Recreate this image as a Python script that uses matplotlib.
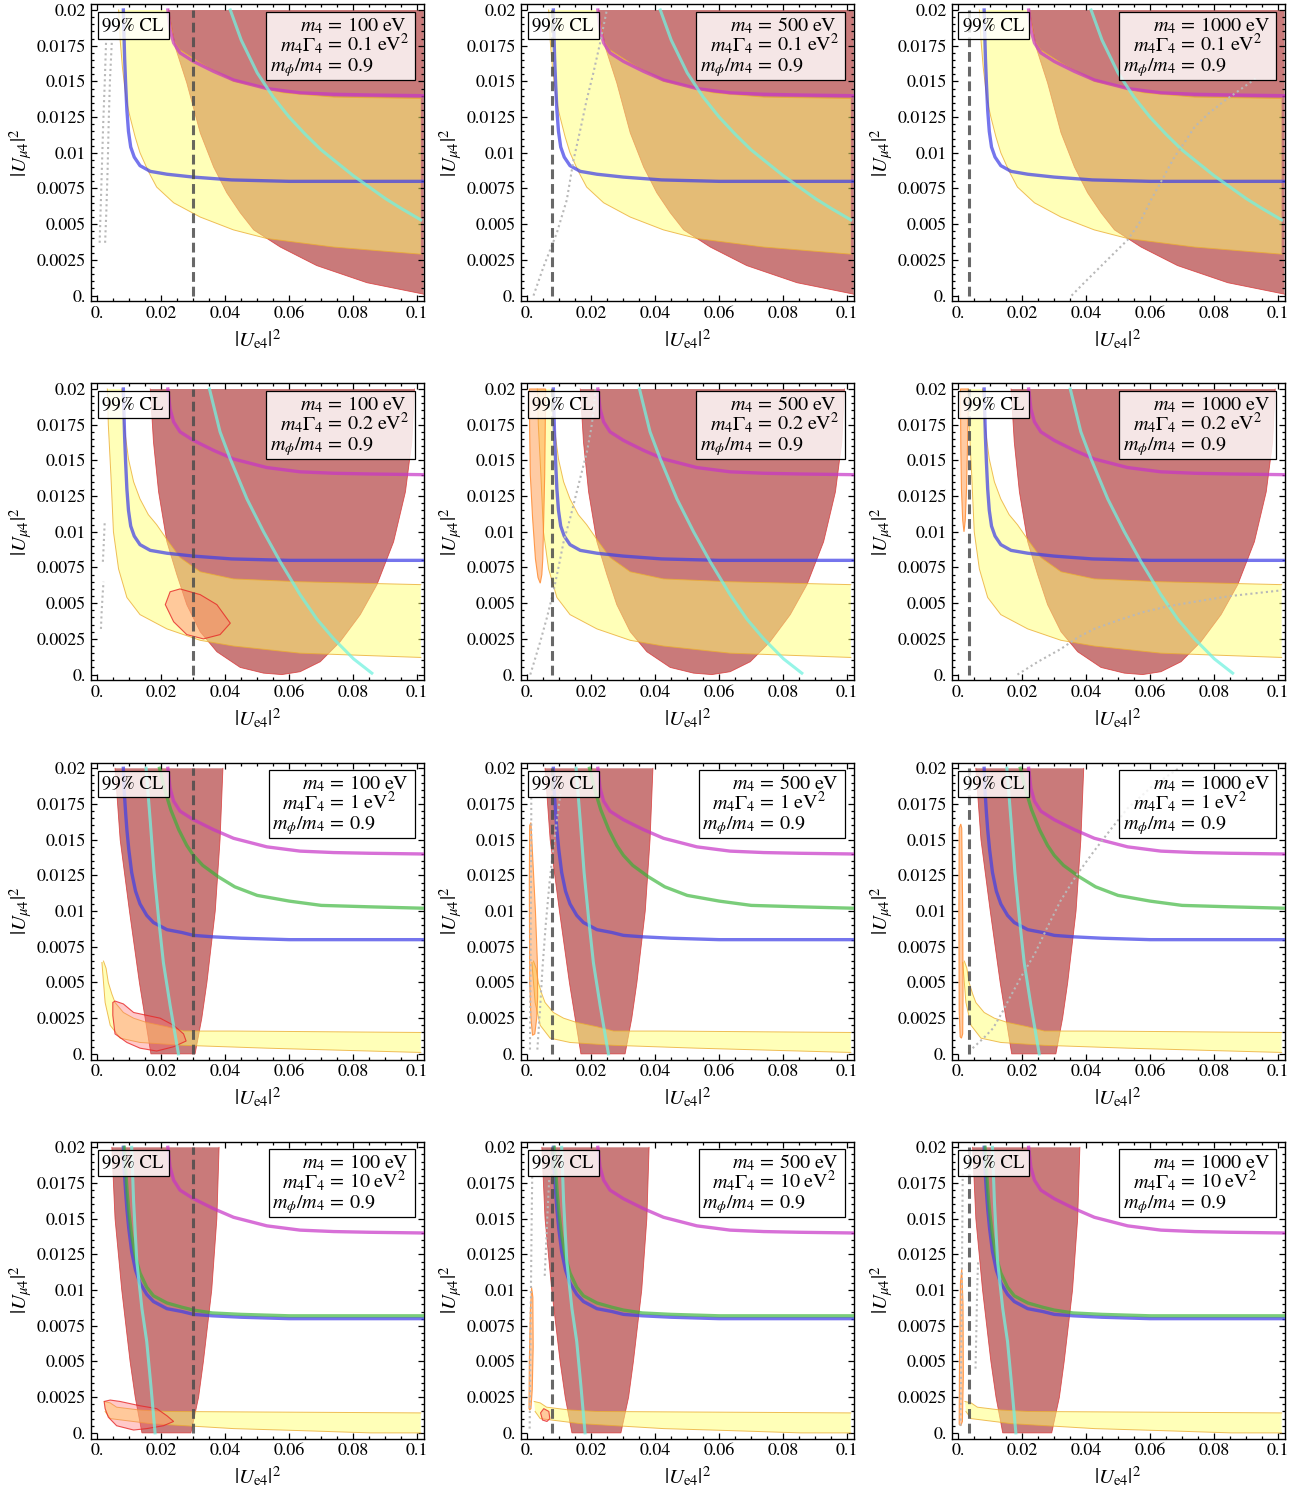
import matplotlib.pyplot as plt
from matplotlib.patches import Rectangle
from matplotlib.ticker import MultipleLocator

plt.rcParams['font.family'] = 'STIXGeneral'
plt.rcParams['mathtext.fontset'] = 'stix'

# panel parameters: columns = m4, rows = m4*Gamma4
m4_values = ["100", "500", "1000"]
width_values = ["0.1", "0.2", "1", "10"]
mphi_ratio = "0.9"

xticks = [0, 0.02, 0.04, 0.06, 0.08, 0.1]
xtick_labels = ["0.", "0.02", "0.04", "0.06", "0.08", "0.1"]
yticks = [0, 0.0025, 0.005, 0.0075, 0.01, 0.0125, 0.015, 0.0175, 0.02]
ytick_labels = ["0.", "0.0025", "0.005", "0.0075", "0.01", "0.0125", "0.015", "0.0175", "0.02"]

# vertical dashed bound, one per column
dash_x = [0.03, 0.0077, 0.0036]

# magenta curve, same in all panels
mag_x = [0.0221, 0.0228, 0.0239, 0.0259, 0.0301, 0.0364, 0.0426, 0.053, 0.0634, 0.0739, 0.085, 0.102]
mag_y = [0.02, 0.0186, 0.0177, 0.017, 0.0164, 0.0157, 0.0151, 0.0145, 0.0142, 0.0141, 0.01405, 0.014]

# blue curve: rows 1-2 and rows 3-4
blue_x = [
    [0.0082, 0.0084, 0.0086, 0.0089, 0.0093, 0.0098, 0.0105, 0.0116, 0.0134, 0.0166, 0.0218,
     0.03, 0.042, 0.06, 0.102],
    [0.0082, 0.0085, 0.0089, 0.0093, 0.0099, 0.0108, 0.012, 0.0134, 0.0155, 0.0176, 0.0218,
     0.0265, 0.0301, 0.036, 0.045, 0.06, 0.102],
]
blue_y = [
    [0.02, 0.0182, 0.0166, 0.0149, 0.013, 0.0115, 0.0104, 0.0097, 0.0091, 0.0087, 0.0085,
     0.0083, 0.0081, 0.008, 0.008],
    [0.02, 0.0183, 0.0169, 0.0157, 0.0143, 0.0127, 0.0114, 0.0105, 0.0097, 0.0092, 0.0087,
     0.0085, 0.0083, 0.0082, 0.0081, 0.008, 0.008],
]
blue_row = [0, 0, 1, 1]

# cyan curve, one per row
cyan_x = [
    [0.0416, 0.045, 0.05, 0.055, 0.06, 0.065, 0.07, 0.075, 0.08, 0.085, 0.09, 0.095, 0.1011],
    [0.0351, 0.0384, 0.0416, 0.0468, 0.052, 0.0572, 0.0634, 0.0686, 0.0739, 0.0801, 0.0858],
    [0.0153, 0.0166, 0.0178, 0.0192, 0.0207, 0.0228, 0.0254],
    [0.0108, 0.0114, 0.0124, 0.014, 0.0155, 0.0168, 0.0181],
]
cyan_y = [
    [0.02, 0.0179, 0.0156, 0.0139, 0.0125, 0.0113, 0.0102, 0.0093, 0.0084, 0.0076, 0.0068, 0.0061, 0.0053],
    [0.02, 0.017, 0.0151, 0.0123, 0.01, 0.0079, 0.0056, 0.0039, 0.0025, 0.0011, 0.0001],
    [0.02, 0.0163, 0.0127, 0.0095, 0.0064, 0.0034, 0.0],
    [0.02, 0.0162, 0.012, 0.0087, 0.0064, 0.0033, 0.0],
]

# green curve, rows 3 and 4 only
green_x = [
    None,
    None,
    [0.0195, 0.021, 0.023, 0.0255, 0.028, 0.0301, 0.033, 0.0379, 0.043, 0.05, 0.06, 0.07, 0.085, 0.102],
    [0.0085, 0.0089, 0.0094, 0.01, 0.0108, 0.012, 0.0134, 0.0155, 0.0176, 0.0218, 0.0265,
     0.0301, 0.036, 0.045, 0.06, 0.102],
]
green_y = [
    None,
    None,
    [0.02, 0.0186, 0.0171, 0.0157, 0.0146, 0.0139, 0.0132, 0.0124, 0.0117, 0.0111, 0.0107,
     0.0104, 0.0103, 0.0102],
    [0.02, 0.0185, 0.0168, 0.0153, 0.0138, 0.0123, 0.0112, 0.0102, 0.0096, 0.0091, 0.0088,
     0.0086, 0.0084, 0.0083, 0.0082, 0.0082],
]

# red region boundary, one per row
red_x = [
    [0.0223, 0.0244, 0.028, 0.0322, 0.0364, 0.0405, 0.0447, 0.0489, 0.0572, 0.0686, 0.0843, 0.102],
    [0.0166, 0.0176, 0.0192, 0.0218, 0.0249, 0.028, 0.0322, 0.0374, 0.0447, 0.052, 0.0577,
     0.0634, 0.0697, 0.0759, 0.0822, 0.0874, 0.0926, 0.0963, 0.0983, 0.0991],
    [0.0056, 0.0072, 0.0101, 0.0132, 0.015, 0.0168, 0.0306, 0.0327, 0.0343, 0.0369, 0.0384, 0.0393],
    [0.0046, 0.0056, 0.0077, 0.0103, 0.0119, 0.014, 0.0293, 0.0317, 0.0332, 0.0358, 0.0374, 0.0381],
]
red_y = [
    [0.02, 0.0174, 0.0149, 0.0114, 0.009, 0.0072, 0.0058, 0.0046, 0.0034, 0.0021, 0.0009, 0.0001],
    [0.02, 0.0163, 0.0128, 0.0093, 0.007, 0.0049, 0.003, 0.0016, 0.0005, 0.0001, 0.0,
     0.0002, 0.0009, 0.0023, 0.0042, 0.0063, 0.0093, 0.0128, 0.0163, 0.02],
    [0.02, 0.015, 0.01, 0.005, 0.0025, 0.0, 0.0, 0.0025, 0.005, 0.01, 0.015, 0.02],
    [0.02, 0.015, 0.01, 0.005, 0.0025, 0.0, 0.0, 0.0025, 0.005, 0.01, 0.015, 0.02],
]

# yellow band, upper and lower edges, one per row
yup_x = [
    [0.0223, 0.0239, 0.0259, 0.0322, 0.0426, 0.0582, 0.0739, 0.1011],
    [0.0077, 0.0084, 0.0098, 0.0114, 0.0134, 0.016, 0.0186, 0.0223, 0.0259, 0.0322, 0.0426, 0.0634, 0.1011],
    [0.002, 0.0028, 0.0035, 0.0046, 0.0056, 0.0082, 0.0114, 0.0155, 0.0218, 0.027, 0.0426, 0.1011],
    [0.0022, 0.0041, 0.0061, 0.0134, 0.0218, 0.1011],
]
yup_y = [
    [0.02, 0.0179, 0.0172, 0.0163, 0.015, 0.0142, 0.0139, 0.0138],
    [0.02, 0.0175, 0.0151, 0.0135, 0.0123, 0.0112, 0.0105, 0.0093, 0.0082, 0.0072, 0.0067, 0.0065, 0.0063],
    [0.0065, 0.006, 0.005, 0.0042, 0.0036, 0.0029, 0.0025, 0.0022, 0.0019, 0.0016, 0.0016, 0.0015],
    [0.0022, 0.0021, 0.0018, 0.0016, 0.0015, 0.0014],
]
ylow_x = [
    [0.0067, 0.0072, 0.0079, 0.0091, 0.0103, 0.0119, 0.0134, 0.016, 0.0186, 0.0239, 0.0322,
     0.0426, 0.053, 0.0634, 0.0739, 0.1011],
    [0.0032, 0.0035, 0.0043, 0.0051, 0.0067, 0.0093, 0.0134, 0.0218, 0.0322, 0.0426, 0.0634, 0.1011],
    [0.0015, 0.0025, 0.0041, 0.0072, 0.0134, 0.027, 0.053, 0.1011],
    [0.0025, 0.0041, 0.0166, 0.0426, 0.0634, 0.0853, 0.1011],
]
ylow_y = [
    [0.02, 0.0179, 0.016, 0.0137, 0.0125, 0.0111, 0.01, 0.0087, 0.0076, 0.0065, 0.0055,
     0.0046, 0.004, 0.0037, 0.0034, 0.0029],
    [0.02, 0.0175, 0.014, 0.01, 0.0074, 0.0054, 0.0042, 0.0032, 0.0024, 0.002, 0.0015, 0.0012],
    [0.0064, 0.0036, 0.002, 0.0011, 0.0008, 0.0006, 0.0004, 0.0001],
    [0.0015, 0.001, 0.00065, 0.0003, 0.00016, 0.0, 0.0],
]

# light red contours (red edge)
pink_r2c1_x = [0.0213, 0.0228, 0.0259, 0.0322, 0.0374, 0.0416, 0.0384, 0.0332, 0.028, 0.0239]
pink_r2c1_y = [0.0049, 0.0058, 0.006, 0.0056, 0.0049, 0.0036, 0.0028, 0.0025, 0.0028, 0.0037]
pink_r3c1_x = [0.0049, 0.0056, 0.0082, 0.0114, 0.0155, 0.0197, 0.0239, 0.027, 0.0278,
               0.0239, 0.0186, 0.0134, 0.0093, 0.0056, 0.0049]
pink_r3c1_y = [0.0036, 0.0037, 0.0035, 0.0029, 0.0027, 0.0025, 0.002, 0.0014, 0.0009,
               0.0005, 0.0002, 0.0004, 0.0008, 0.0014, 0.0027]
pink_r4c1_x = [0.0022, 0.0041, 0.0072, 0.0134, 0.0186, 0.0218, 0.0239, 0.0207, 0.0155,
               0.0114, 0.0061, 0.0035, 0.0025]
pink_r4c1_y = [0.0022, 0.0023, 0.0022, 0.0019, 0.0017, 0.0012, 0.0008, 0.0005, 0.0003,
               0.0002, 0.0005, 0.0011, 0.0017]
pink_r4c2_x = [0.0042, 0.0052, 0.0068, 0.0071, 0.0062, 0.0048]
pink_r4c2_y = [0.0014, 0.0017, 0.0015, 0.001, 0.0008, 0.0009]

# orange contours
orng_r2c2_x = [0.0007, 0.0008, 0.001, 0.0017, 0.0026, 0.0034, 0.0041, 0.0046, 0.0049, 0.0052, 0.0055, 0.0058]
orng_r2c2_y = [0.02, 0.017, 0.014, 0.011, 0.0081, 0.0068, 0.0064, 0.007, 0.0081, 0.011, 0.014, 0.02]
orng_r2c3_x = [0.0008, 0.0009, 0.0011, 0.0015, 0.0019, 0.0023, 0.0027, 0.003, 0.0033]
orng_r2c3_y = [0.02, 0.016, 0.013, 0.0108, 0.01, 0.0108, 0.013, 0.016, 0.02]
orng_r3c2_x = [0.0008, 0.0007, 0.0008, 0.0012, 0.0017, 0.0024, 0.003, 0.0033, 0.0032, 0.0026, 0.0017, 0.0012]
orng_r3c2_y = [0.016, 0.012, 0.005, 0.0025, 0.0013, 0.0014, 0.0025, 0.004, 0.0065, 0.01, 0.014, 0.0162]
orng_r3c3_x = [0.0004, 0.0003, 0.0004, 0.0007, 0.0011, 0.0015, 0.0016, 0.0015, 0.0012, 0.0009]
orng_r3c3_y = [0.0158, 0.01, 0.003, 0.0012, 0.0011, 0.0014, 0.004, 0.01, 0.0158, 0.0161]
orng_r4c2_x = [0.0006, 0.0007, 0.001, 0.0014, 0.0018, 0.0019, 0.0016, 0.0012, 0.0008]
orng_r4c2_y = [0.0017, 0.005, 0.0085, 0.0102, 0.0095, 0.006, 0.003, 0.0017, 0.0016]
orng_r4c3_x = [0.0004, 0.0005, 0.0008, 0.0012, 0.0016, 0.0017, 0.0014, 0.0009]
orng_r4c3_y = [0.0006, 0.005, 0.0105, 0.0115, 0.009, 0.004, 0.0008, 0.0005]

# light grey dotted contours
dot_r1c1a_x = [0.0008, 0.0011, 0.0015, 0.0019, 0.0024, 0.0028]
dot_r1c1a_y = [0.0037, 0.006, 0.009, 0.012, 0.015, 0.0178]
dot_r1c1b_x = [0.0025, 0.0029, 0.0033, 0.0036, 0.004, 0.0046]
dot_r1c1b_y = [0.0037, 0.006, 0.009, 0.012, 0.015, 0.0178]
dot_r1c2_x = [0.002, 0.0051, 0.0093, 0.0124, 0.0145, 0.0166, 0.0186, 0.0207, 0.0228, 0.0249]
dot_r1c2_y = [0.0, 0.002, 0.0044, 0.0067, 0.0095, 0.0116, 0.0137, 0.0156, 0.0177, 0.02]
dot_r1c3_x = [0.0355, 0.039, 0.0426, 0.048, 0.053, 0.057, 0.0603, 0.064, 0.0676, 0.071,
              0.0739, 0.078, 0.083, 0.088, 0.093]
dot_r1c3_y = [0.0, 0.0008, 0.0016, 0.0028, 0.0039, 0.0052, 0.0067, 0.0082, 0.0097, 0.0108,
              0.0118, 0.0127, 0.0136, 0.0144, 0.0152]
dot_r2c1a_x = [0.0018, 0.002, 0.0022, 0.0024]
dot_r2c1a_y = [0.0079, 0.0088, 0.0098, 0.0108]
dot_r2c1b_x = [0.0012, 0.0014, 0.0017, 0.002]
dot_r2c1b_y = [0.0032, 0.0043, 0.0055, 0.0065]
dot_r2c2_x = [0.001, 0.0041, 0.0062, 0.0082, 0.0098, 0.0114, 0.0135, 0.0155, 0.0172, 0.0187, 0.02, 0.0208, 0.0213]
dot_r2c2_y = [0.0, 0.0023, 0.004, 0.0058, 0.0075, 0.0093, 0.011, 0.0128, 0.0143, 0.0156, 0.0172, 0.0185, 0.02]
dot_r2c3_x = [0.0186, 0.025, 0.0322, 0.0374, 0.0426, 0.05, 0.0582, 0.066, 0.0739, 0.085, 0.1011]
dot_r2c3_y = [0.0, 0.0009, 0.0018, 0.0026, 0.0032, 0.0038, 0.0044, 0.0048, 0.0051, 0.0055, 0.0059]
dot_r3c2a_x = [0.0009, 0.001, 0.0011, 0.0012, 0.0013, 0.0013]
dot_r3c2a_y = [0.0003, 0.004, 0.008, 0.012, 0.016, 0.0182]
dot_r3c2b_x = [0.0032, 0.004, 0.0048, 0.0058, 0.007, 0.0085, 0.0104]
dot_r3c2b_y = [0.0003, 0.003, 0.006, 0.009, 0.012, 0.015, 0.0182]
dot_r3c3_x = [0.0046, 0.008, 0.011, 0.0138, 0.0166, 0.02, 0.024, 0.028, 0.032, 0.037,
              0.0425, 0.048, 0.053, 0.061, 0.069]
dot_r3c3_y = [0.0004, 0.0011, 0.0018, 0.0029, 0.0041, 0.0055, 0.007, 0.0089, 0.0107, 0.0125,
              0.0142, 0.0158, 0.0172, 0.0188, 0.02]
dot_r4c2a_x = [0.0008, 0.001, 0.0012, 0.0014, 0.0016]
dot_r4c2a_y = [0.0003, 0.005, 0.01, 0.0145, 0.018]
dot_r4c2b_x = [0.0055, 0.006, 0.0065, 0.007]
dot_r4c2b_y = [0.011, 0.0135, 0.016, 0.0182]
dot_r4c3a_x = [0.0008, 0.001, 0.0012, 0.0014, 0.0015]
dot_r4c3a_y = [0.0005, 0.005, 0.01, 0.015, 0.0182]
dot_r4c3b_x = [0.0055, 0.0058, 0.006, 0.0063]
dot_r4c3b_y = [0.0045, 0.0075, 0.01, 0.012]

pink_blobs = {
    (1, 0): [(pink_r2c1_x, pink_r2c1_y)],
    (2, 0): [(pink_r3c1_x, pink_r3c1_y)],
    (3, 0): [(pink_r4c1_x, pink_r4c1_y)],
    (3, 1): [(pink_r4c2_x, pink_r4c2_y)],
}
orange_blobs = {
    (1, 1): [(orng_r2c2_x, orng_r2c2_y)],
    (1, 2): [(orng_r2c3_x, orng_r2c3_y)],
    (2, 1): [(orng_r3c2_x, orng_r3c2_y)],
    (2, 2): [(orng_r3c3_x, orng_r3c3_y)],
    (3, 1): [(orng_r4c2_x, orng_r4c2_y)],
    (3, 2): [(orng_r4c3_x, orng_r4c3_y)],
}
dotted = {
    (0, 0): [(dot_r1c1a_x, dot_r1c1a_y), (dot_r1c1b_x, dot_r1c1b_y)],
    (0, 1): [(dot_r1c2_x, dot_r1c2_y)],
    (0, 2): [(dot_r1c3_x, dot_r1c3_y)],
    (1, 0): [(dot_r2c1a_x, dot_r2c1a_y), (dot_r2c1b_x, dot_r2c1b_y)],
    (1, 1): [(dot_r2c2_x, dot_r2c2_y)],
    (1, 2): [(dot_r2c3_x, dot_r2c3_y)],
    (2, 1): [(dot_r3c2a_x, dot_r3c2a_y), (dot_r3c2b_x, dot_r3c2b_y)],
    (2, 2): [(dot_r3c3_x, dot_r3c3_y)],
    (3, 1): [(dot_r4c2a_x, dot_r4c2a_y), (dot_r4c2b_x, dot_r4c2b_y)],
    (3, 2): [(dot_r4c3a_x, dot_r4c3a_y), (dot_r4c3b_x, dot_r4c3b_y)],
}

W, H = 1316, 1497
col_left = [90.7, 520.7, 951.5]
row_top = [4.3, 383.3, 762.6, 1141.6]
ax_w, ax_h = 333, 297
line_base = [0.91, 0.842, 0.776]

fig = plt.figure(figsize=(W / 100, H / 100), dpi=100)
boxes = []

for r in range(4):
    for c in range(3):
        ax = fig.add_axes([col_left[c] / W, 1 - (row_top[r] + ax_h) / H, ax_w / W, ax_h / H])
        ax.set_xlim(-0.002, 0.102)
        ax.set_ylim(-0.0004, 0.0204)

        # red region, closed along the top of the plot range
        rx, ry = list(red_x[r]), list(red_y[r])
        if ry[-1] < 0.02:
            rx, ry = rx + [rx[-1]], ry + [0.02]
        ax.fill(rx, ry, fc=(0.6, 0.0, 0.0, 0.52), ec='none', zorder=1)
        ax.plot(red_x[r], red_y[r], color=(0.85, 0.2, 0.2), lw=0.6, alpha=0.8, zorder=1.1)

        # yellow band
        bx = yup_x[r] + ylow_x[r][::-1]
        by = yup_y[r] + ylow_y[r][::-1]
        ax.fill(bx, by, fc=(1.0, 1.0, 0.45, 0.5), ec='none', zorder=2)
        ax.plot(yup_x[r], yup_y[r], color=(0.92, 0.68, 0.2), lw=0.7, alpha=0.8, zorder=2.1)
        ax.plot(ylow_x[r], ylow_y[r], color=(0.92, 0.68, 0.2), lw=0.7, alpha=0.8, zorder=2.1)

        for px, py in pink_blobs.get((r, c), []):
            ax.fill(px, py, fc=(1.0, 0.4, 0.4, 0.35), ec=(0.9, 0.15, 0.15, 0.8), lw=0.8, zorder=3)
        for px, py in orange_blobs.get((r, c), []):
            ax.fill(px, py, fc=(1.0, 0.55, 0.2, 0.45), ec=(1.0, 0.55, 0.2, 0.85), lw=0.8, zorder=3)

        # curves
        b = blue_row[r]
        ax.plot(mag_x, mag_y, color=(0.78, 0.2, 0.78), alpha=0.7, lw=2.4, zorder=4)
        ax.plot(blue_x[b], blue_y[b], color=(0.25, 0.25, 0.9), alpha=0.72, lw=2.4, zorder=4.1)
        if green_x[r] is not None:
            ax.plot(green_x[r], green_y[r], color=(0.2, 0.7, 0.2), alpha=0.65, lw=2.4, zorder=4.2)
        ax.plot(cyan_x[r], cyan_y[r], color=(0.45, 0.95, 0.88), alpha=0.75, lw=2.2, zorder=4.3)

        for px, py in dotted.get((r, c), []):
            ax.plot(px, py, color=(0.72, 0.72, 0.72), lw=1.5, ls=(0, (1, 1.5)), zorder=5)

        ax.plot([dash_x[c], dash_x[c]], [0, 0.02], color=(0.3, 0.3, 0.3), alpha=0.85,
                lw=2.2, ls=(0, (3.2, 1.6)), zorder=6)

        # frame ticks
        ax.set_xticks(xticks)
        ax.set_xticklabels(xtick_labels)
        ax.set_yticks(yticks)
        ax.set_yticklabels(ytick_labels)
        ax.xaxis.set_minor_locator(MultipleLocator(0.005))
        ax.yaxis.set_minor_locator(MultipleLocator(0.0005))
        ax.tick_params(which='both', direction='in', top=True, right=True, labelsize=13, width=0.9)
        ax.tick_params(which='major', length=4.5)
        ax.tick_params(which='minor', length=2.3)
        for sp in ax.spines.values():
            sp.set_linewidth(1.0)

        ax.set_xlabel(r'$|U_{\mathrm{e}4}|^2$', fontsize=15, labelpad=4)
        ax.set_ylabel(r'$|U_{\mu 4}|^2$', fontsize=15, labelpad=1)

        ax.text(0.035, 0.957, '99% CL', transform=ax.transAxes, ha='left', va='top',
                fontsize=13.5, zorder=10,
                bbox=dict(boxstyle='square,pad=0.25', fc=(1, 1, 1, 0.82), ec='black', lw=0.9))

        # parameter box, lines aligned on the equals sign
        lhs = [r'$m_4$', r'$m_4\Gamma_4$', r'$m_\phi/m_4$']
        rhs = [r'$=\,' + m4_values[c] + r'\ \mathrm{eV}$',
               r'$=\,' + width_values[r] + r'\ \mathrm{eV}^2$',
               r'$=\,' + mphi_ratio + '$']
        lt = [ax.text(0.7, yb, s, transform=ax.transAxes, ha='right', va='baseline',
                      fontsize=14.5, zorder=10) for s, yb in zip(lhs, line_base)]
        rt = [ax.text(0.7, yb, s, transform=ax.transAxes, ha='left', va='baseline',
                      fontsize=14.5, zorder=10) for s, yb in zip(rhs, line_base)]
        boxes.append((ax, lt, rt))

fig.canvas.draw()
renderer = fig.canvas.get_renderer()
for ax, lt, rt in boxes:
    aw = ax.bbox.width
    gap = 2.0 / aw
    right_w = max(t.get_window_extent(renderer).width for t in rt) / aw
    left_w = max(t.get_window_extent(renderer).width for t in lt) / aw
    x_eq = 0.957 - right_w
    for t in lt:
        t.set_x(x_eq - gap)
    for t in rt:
        t.set_x(x_eq)
    x0 = x_eq - gap - left_w - 0.011
    ax.add_patch(Rectangle((x0, 0.745), 0.974 - x0, 0.975 - 0.745, transform=ax.transAxes,
                           fc=(1, 1, 1, 0.82), ec='black', lw=0.9, zorder=9))

fig.savefig('out.png', dpi=100)
